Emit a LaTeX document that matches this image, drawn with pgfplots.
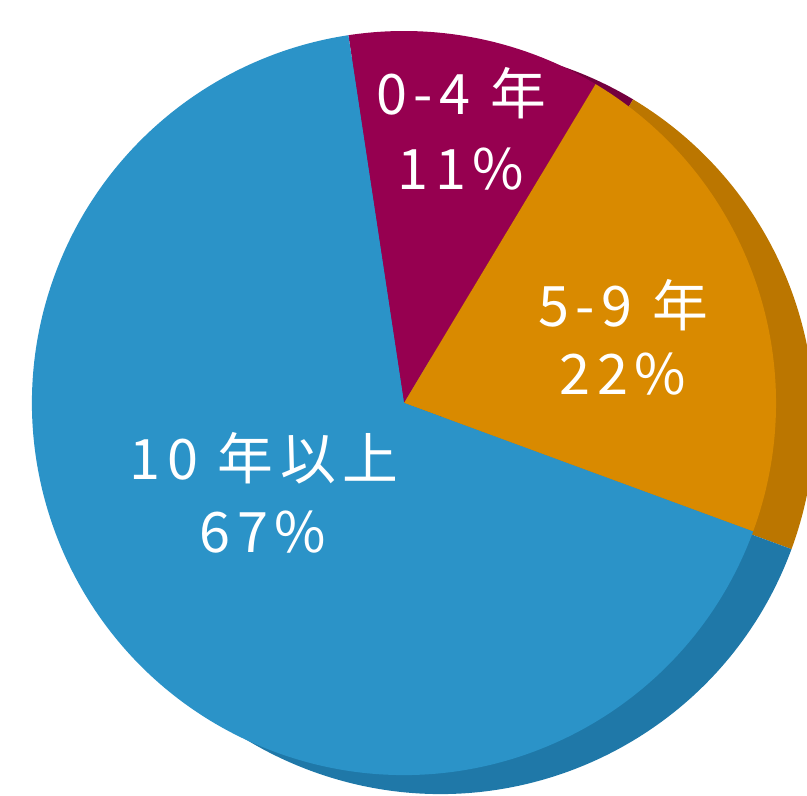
\documentclass[border=0pt]{standalone}
\usepackage{pgfplots}
\pgfplotsset{compat=1.18}
\usepackage{pgfplotstable}
\usepackage{fontspec}
\newfontfamily\cjk[LetterSpace=12]{Noto Sans CJK TC}
\definecolor{cBlue}{HTML}{2B93C8}
\definecolor{cMag}{HTML}{960050}
\definecolor{cOra}{HTML}{D98A00}
\definecolor{dBlue}{HTML}{1F78A8}
\definecolor{dMag}{HTML}{74003E}
\definecolor{dOra}{HTML}{BB7600}
\pgfplotstableread{
share
11
22
67
}\piedata
\begin{document}
\begin{tikzpicture}
\pgfplotstablegetelem{0}{share}\of\piedata \let\sA\pgfplotsretval
\pgfplotstablegetelem{1}{share}\of\piedata \let\sB\pgfplotsretval
\pgfplotstablegetelem{2}{share}\of\piedata \let\sC\pgfplotsretval
\pgfmathsetmacro{\aA}{98.6}
\pgfmathsetmacro{\aB}{\aA-3.6*\sA}
\pgfmathsetmacro{\aC}{\aB-3.6*\sB}
\pgfmathsetmacro{\aD}{\aC-3.6*\sC}
\begin{axis}[
  width=807bp, height=796bp, scale only axis,
  xmin=0, xmax=807, ymin=0, ymax=796,
  hide axis, clip=true,
]
% side wall (3D rim)
\fill[dMag] (axis cs:440.5,376) -- ++(\aA:374) arc[start angle=\aA, end angle=\aB, radius=374] -- cycle;
\fill[dOra] (axis cs:440.5,376) -- ++(\aB:374) arc[start angle=\aB, end angle=\aC, radius=374] -- cycle;
\fill[dBlue] (axis cs:440.5,376) -- ++(\aC:374) arc[start angle=\aC, end angle=\aD, radius=374] -- cycle;
% top face
\fill[cMag] (axis cs:404,393) -- ++(\aA:372) arc[start angle=\aA, end angle=\aB, radius=372] -- cycle;
\fill[cOra] (axis cs:404,393) -- ++(\aB:372) arc[start angle=\aB, end angle=\aC, radius=372] -- cycle;
\fill[cBlue] (axis cs:404,393) -- ++(\aC:372) arc[start angle=\aC, end angle=\aD, radius=372] -- cycle;
% labels
\begin{scope}[every node/.style={text=white, anchor=base, inner sep=0pt, font=\cjk\fontsize{56}{64}\selectfont}]
\node at (axis cs:461,681) {0-4 年};
\node at (axis cs:461,606) {11\%};
\node at (axis cs:623,469) {5-9 年};
\node at (axis cs:623,401) {22\%};
\node at (axis cs:264,316) {10 年以上};
\node at (axis cs:263,243) {67\%};
\end{scope}
\end{axis}
\pgfresetboundingbox
\path[use as bounding box] (current axis.south west) rectangle (current axis.north east);
\end{tikzpicture}
\end{document}
